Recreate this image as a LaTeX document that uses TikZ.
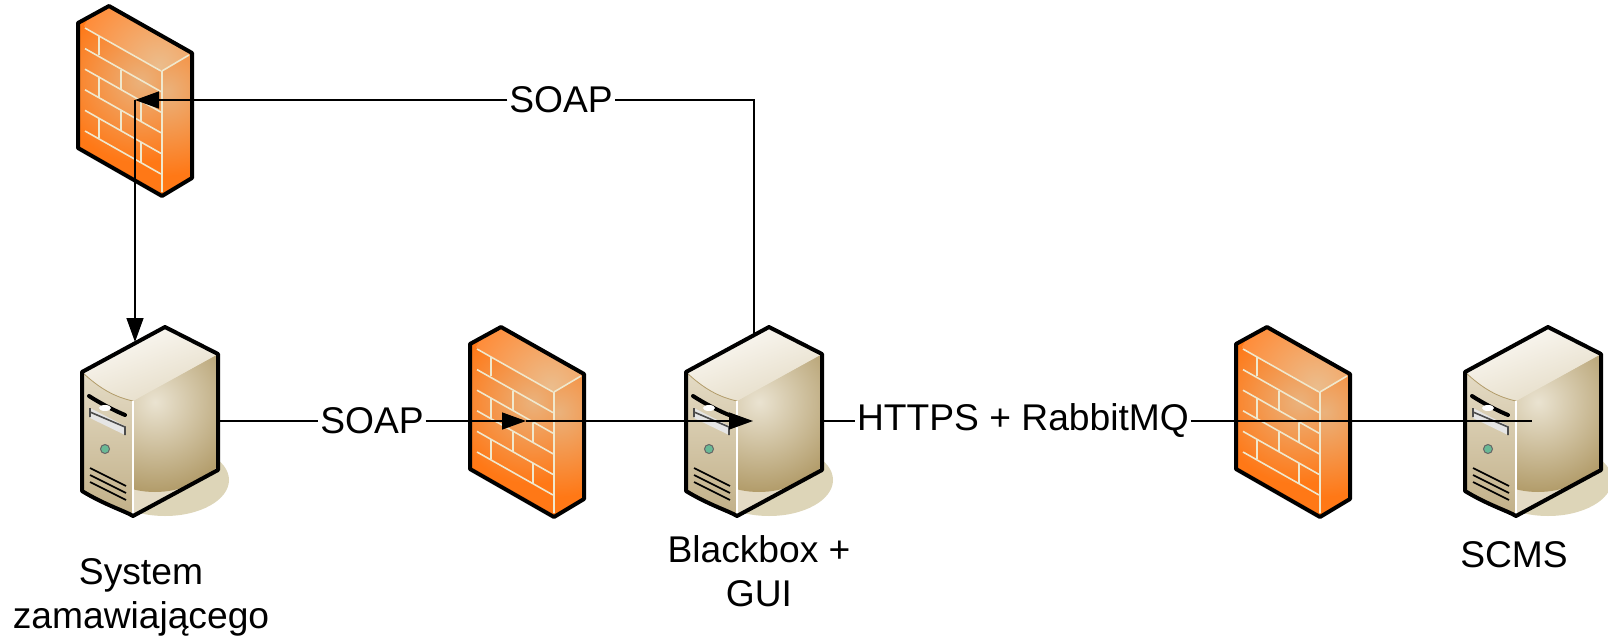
\documentclass[tikz,border=0pt]{standalone}
\usepackage{fontspec}
\setmainfont{Liberation Sans}
\usetikzlibrary{arrows.meta}
\definecolor{brickorange}{RGB}{255,120,22}
\definecolor{brickpale}{RGB}{234,178,124}
\definecolor{brickline}{RGB}{240,232,205}
\definecolor{caselight}{RGB}{252,250,246}
\definecolor{casemid}{RGB}{228,219,197}
\definecolor{casepale}{RGB}{234,227,209}
\definecolor{casedark}{RGB}{178,156,106}
\definecolor{caseshadow}{RGB}{221,213,184}
\definecolor{ledgreen}{RGB}{105,185,150}
\tikzset{
	x=0.5pt,y=-0.5pt,
	outline/.style={draw=black,line width=2pt,line join=round},
	link/.style={draw=black,line width=0.7pt},
	tip/.style={-{Triangle[length=12pt,width=8.5pt]}},
	lbl/.style={font=\fontsize{18.6pt}{22pt}\selectfont,inner sep=1pt,outer sep=0pt},
	caption/.style={font=\fontsize{18.6pt}{22pt}\selectfont,align=center,inner sep=0pt},
	brick/.style={draw=brickline,line width=0.8pt},
	firewall/.pic={
		% offsets measured from the top corner
		\fill[brickorange] (0,0) -- (-31,17) -- (-31,142) -- (53,190) -- (83,172) -- (83,47) -- cycle;
		\begin{scope}
			\clip (-31,17) -- (53,65) -- (53,190) -- (-31,142) -- cycle;
			\shade[inner color=brickpale,outer color=brickorange] (32,75) circle (82);
		\end{scope}
		\begin{scope}
			\clip (0,0) -- (-31,17) -- (53,65) -- (83,47) -- cycle;
			\shade[inner color=brickpale!80!brickline,outer color=brickorange!85!white] (50,60) circle (85);
		\end{scope}
		\begin{scope}
			\clip (53,65) -- (83,47) -- (83,172) -- (53,190) -- cycle;
			\shade[inner color=brickpale,outer color=brickorange] (57,85) circle (85);
		\end{scope}
		\foreach \k in {0,1,2,3,4,5} {
			\draw[brick] (-24,22+20.6*\k) -- (52,65+20.6*\k);
		}
		\draw[brick] (53,65) -- (53,186) (53,65) -- (80,49);
		\draw[brick] (-10,30) -- (-10,49) (-10,71) -- (-10,91) (-10,112) -- (-10,132);
		\draw[brick] (12,64) -- (12,84) (12,105) -- (12,125);
		\draw[brick] (32,96) -- (32,115) (32,136) -- (32,156);
		\draw[outline] (0,0) -- (-31,17) -- (-31,142) -- (53,190) -- (83,172) -- (83,47) -- cycle;
	},
	server/.pic={
		% offsets measured from the top corner
		\fill[caseshadow] (0,153) ellipse (64 and 36);
		\fill[casemid] (0,0) -- (-83,45) -- (-83,164) .. controls (-60,178) and (-40,184) .. (-32,189) -- (53,143) -- (53,27) -- cycle;
		\begin{scope}
			\clip (-32,74) -- (53,27) -- (53,143) -- (-32,189) -- cycle;
			\shade[inner color=casepale,outer color=casedark] (-10,75) circle (90);
		\end{scope}
		\shade[top color=casemid,middle color=casepale!75!casedark,bottom color=casedark!80!white] (-83,45) .. controls (-65,62) and (-50,70) .. (-32,74) -- (-32,189) .. controls (-40,184) and (-60,178) .. (-83,164) -- cycle;
		\shade[left color=caselight,right color=casemid,shading angle=20] (0,0) -- (-83,45) .. controls (-65,62) and (-50,70) .. (-32,74) -- (53,27) -- cycle;
		\draw[casedark,line width=0.4pt] (-83,45) .. controls (-65,62) and (-50,70) .. (-32,74);
		\draw[white,line width=0.6pt] (-32,74) -- (-32,187);
		\fill[gray!20] (-75,81) -- (-40,99) -- (-40,108) -- (-75,91) -- cycle;
		\draw[black!70,line width=0.8pt] (-75,81) -- (-75,90) (-75,85) -- (-40,100) -- (-40,108);
		\draw[black,line width=2pt,line cap=round] (-76,69) .. controls (-65,76) and (-52,83) .. (-40,88);
		\fill[white] (-60,81) ellipse (6 and 3);
		\draw[black!60,fill=ledgreen,line width=0.5pt] (-60,122) circle (4.5);
		\foreach \k in {0,1,2} {
			\draw[black,line width=0.8pt] (-75,141+7*\k) -- (-39,159+7*\k);
		}
		\draw[outline] (0,0) -- (-83,45) -- (-83,164) .. controls (-60,178) and (-40,184) .. (-32,189) -- (53,143) -- (53,27) -- cycle;
	}
}
\begin{document}
\begin{tikzpicture}
	\useasboundingbox (0,0) rectangle (1608,637);

	%------------------------------------------------------
	\pic at (109,6) {firewall};
	\pic at (501,327) {firewall};
	\pic at (1267,327) {firewall};
	%------------------------------------------------------

	%------------------------------------------------------
	\pic at (165,327) {server};
	\pic at (769,327) {server};
	\pic at (1548,327) {server};
	%------------------------------------------------------

	%------------------------------------------------------
	\node[lbl] (soaptop) at (561,100) {SOAP};
	\node[lbl] (soapleft) at (372,421) {SOAP};
	\node[lbl] (https) at (1023,421) {HTTPS + RabbitMQ};
	%------------------------------------------------------

	%------------------------------------------------------
	\coordinate (fwtop) at (135,100);
	\coordinate (srvleft) at (135,342);
	\coordinate (srvmid) at (754,334);
	\coordinate (leftout) at (218,421);
	\coordinate (fwmid) at (526,421);
	\coordinate (midin) at (753,421);
	\coordinate (midout) at (822,421);
	\coordinate (rightin) at (1532,421);
	\coordinate (topturn) at (754,100);
	%------------------------------------------------------

	%------------------------------------------------------
	\draw[link] (leftout) -- (soapleft);
	\draw[link,tip] (soapleft) -- (fwmid);
	\draw[link,tip] (fwmid) -- (midin);
	\draw[link] (midout) -- (https);
	\draw[link] (https) -- (rightin);
	\draw[link] (srvmid) -- (topturn) -- (soaptop);
	\draw[link,tip] (soaptop) -- (fwtop);
	\draw[link,tip] (fwtop) -- (srvleft);
	%------------------------------------------------------

	%------------------------------------------------------
	\node[caption] (clientname) at (141,597) {System\\zamawiającego};
	\node[caption] (blackboxname) at (759,571) {Blackbox +\\GUI};
	\node[caption] (scmsname) at (1514,555) {SCMS};
	%------------------------------------------------------
\end{tikzpicture}
\end{document}
